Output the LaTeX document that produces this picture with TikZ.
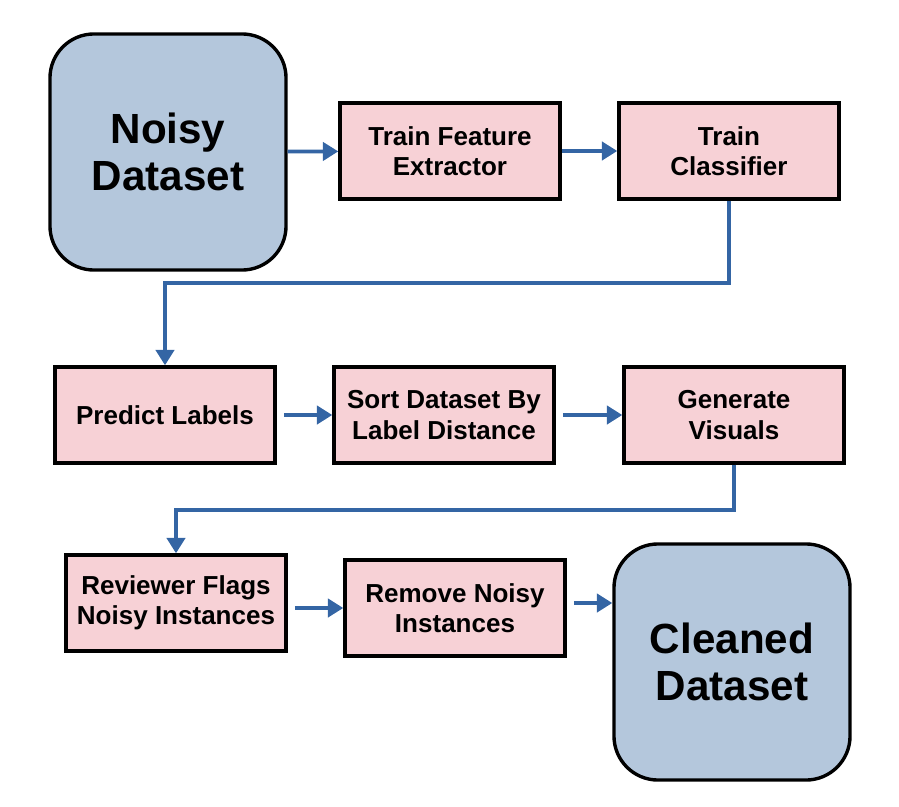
\documentclass[tikz,border=0pt]{standalone}
\usepackage{fontspec}
\setmainfont{Liberation Sans}
\usetikzlibrary{arrows.meta}
\definecolor{dataBlue}{HTML}{B4C7DC}
\definecolor{stepPink}{HTML}{F7D1D6}
\definecolor{flowBlue}{HTML}{3465A4}
\tikzset{
  stage/.style={draw,line width=2.4pt,fill=stepPink,minimum width=5.5cm,minimum height=2.4cm,
    align=center,font=\fontsize{18.5}{21.5}\selectfont\bfseries},
  data/.style={draw,line width=2.4pt,fill=dataBlue,rounded corners=1.1cm,minimum width=5.9cm,
    minimum height=5.9cm,align=center,font=\fontsize{30}{33}\selectfont\bfseries},
  flow/.style={draw=flowBlue,line width=2.6pt,-{Triangle[length=11pt,width=13pt]}}
}
\begin{document}
\begin{tikzpicture}[x=0.025cm,y=-0.025cm]
    \useasboundingbox (0,0) rectangle (899,807);
    \node[data] (noisy) at (168,152) {Noisy\\Dataset};
    \node[stage] (feat) at (450,151) {Train Feature\\Extractor};
    \node[stage] (clf) at (729,151) {Train\\Classifier};
    \node[stage] (pred) at (165,415) {Predict Labels};
    \node[stage] (sort) at (444,415) {Sort Dataset By\\Label Distance};
    \node[stage] (vis) at (734,415) {Generate\\Visuals};
    \node[stage] (rev) at (176,603) {Reviewer Flags\\Noisy Instances};
    \node[stage] (rem) at (455,608) {Remove Noisy\\Instances};
    \node[data] (clean) at (732,662) {Cleaned\\Dataset};
    \coordinate (gap1) at (0,283);
    \coordinate (gap2) at (0,510);
    \draw[flow] (noisy) -- (feat);
    \draw[flow] (feat) -- (clf);
    \draw[flow] (clf.south) |- (gap1 -| pred.north) -- (pred.north);
    \draw[flow,shorten <=5pt] (pred) -- (sort);
    \draw[flow,shorten <=5pt] (sort) -- (vis);
    \draw[flow] (vis.south) |- (gap2 -| rev.north) -- (rev.north);
    \draw[flow,shorten <=5pt] (rev.east |- rem) -- (rem.west);
    \draw[flow,shorten <=5pt] (rem.east |- rev) -- (clean.west |- rev);
\end{tikzpicture}
\end{document}
